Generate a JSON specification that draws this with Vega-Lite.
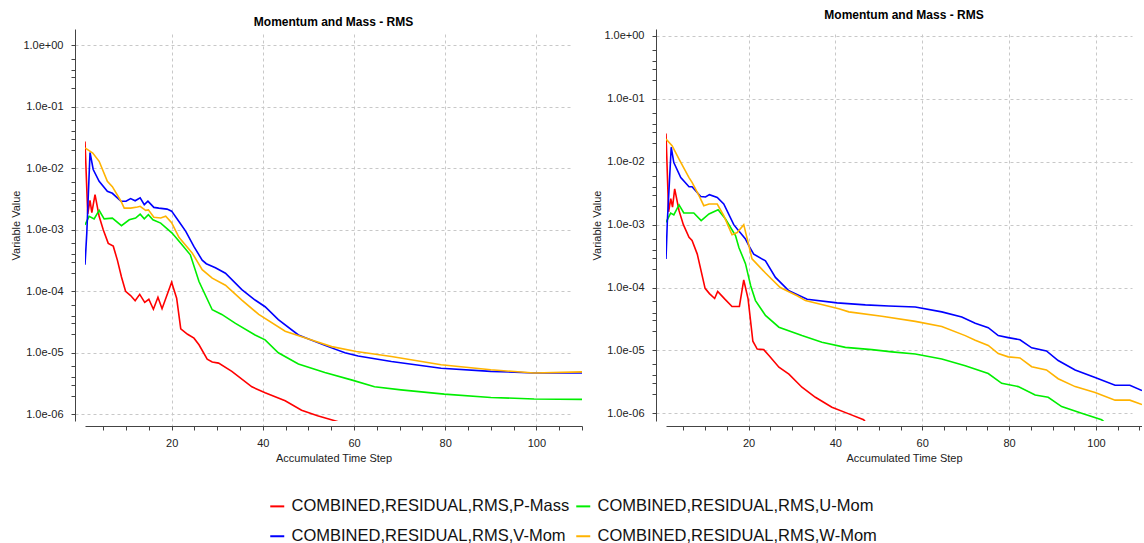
{
  "$schema": "https://vega.github.io/schema/vega-lite/v6.json",
  "padding": {"left": 10, "top": 9, "right": 0, "bottom": 0},
  "background": "white",
  "spacing": 8,
  "datasets": {
    "left": [
      {"s":"P-Mass","x":1.0,"v":2.7e-2},{"s":"P-Mass","x":1.6,"v":1.8e-3},{"s":"P-Mass","x":2.1,"v":3.0e-3},{"s":"P-Mass","x":2.5,"v":1.9e-3},{"s":"P-Mass","x":3.2,"v":3.7e-3},{"s":"P-Mass","x":4.1,"v":1.65e-3},{"s":"P-Mass","x":5.0,"v":1.0e-3},{"s":"P-Mass","x":6.1,"v":6.0e-4},{"s":"P-Mass","x":7.2,"v":5.4e-4},{"s":"P-Mass","x":8.1,"v":3.2e-4},{"s":"P-Mass","x":9.0,"v":1.7e-4},{"s":"P-Mass","x":9.9,"v":1.0e-4},{"s":"P-Mass","x":11.0,"v":8.5e-5},{"s":"P-Mass","x":12.0,"v":7.0e-5},{"s":"P-Mass","x":13.0,"v":8.9e-5},{"s":"P-Mass","x":14.1,"v":6.6e-5},{"s":"P-Mass","x":15.0,"v":7.4e-5},{"s":"P-Mass","x":16.0,"v":5.1e-5},{"s":"P-Mass","x":17.0,"v":8.0e-5},{"s":"P-Mass","x":17.9,"v":5.2e-5},{"s":"P-Mass","x":20.0,"v":1.4e-4},{"s":"P-Mass","x":21.1,"v":7.7e-5},{"s":"P-Mass","x":22.0,"v":2.45e-5},{"s":"P-Mass","x":23.5,"v":2.0e-5},{"s":"P-Mass","x":24.9,"v":1.73e-5},{"s":"P-Mass","x":26.0,"v":1.35e-5},{"s":"P-Mass","x":27.8,"v":7.9e-6},{"s":"P-Mass","x":28.9,"v":7.1e-6},{"s":"P-Mass","x":30.3,"v":6.8e-6},{"s":"P-Mass","x":33.2,"v":5.0e-6},{"s":"P-Mass","x":37.6,"v":2.8e-6},{"s":"P-Mass","x":40.5,"v":2.24e-6},{"s":"P-Mass","x":44.9,"v":1.66e-6},{"s":"P-Mass","x":48.5,"v":1.17e-6},{"s":"P-Mass","x":52.0,"v":9.5e-7},{"s":"P-Mass","x":56.5,"v":7.6e-7},{"s":"P-Mass","x":57.0,"v":7.0e-7},
      {"s":"U-Mom","x":1.0,"v":1.2e-3},{"s":"U-Mom","x":1.9,"v":1.65e-3},{"s":"U-Mom","x":3.0,"v":1.5e-3},{"s":"U-Mom","x":4.1,"v":2.06e-3},{"s":"U-Mom","x":5.2,"v":1.5e-3},{"s":"U-Mom","x":7.0,"v":1.54e-3},{"s":"U-Mom","x":9.0,"v":1.16e-3},{"s":"U-Mom","x":10.7,"v":1.45e-3},{"s":"U-Mom","x":12.1,"v":1.54e-3},{"s":"U-Mom","x":13.1,"v":1.79e-3},{"s":"U-Mom","x":14.0,"v":1.5e-3},{"s":"U-Mom","x":14.9,"v":1.75e-3},{"s":"U-Mom","x":15.9,"v":1.45e-3},{"s":"U-Mom","x":17.6,"v":1.28e-3},{"s":"U-Mom","x":20.1,"v":8.8e-4},{"s":"U-Mom","x":22.0,"v":6.0e-4},{"s":"U-Mom","x":24.1,"v":3.9e-4},{"s":"U-Mom","x":26.0,"v":1.44e-4},{"s":"U-Mom","x":28.9,"v":5.0e-5},{"s":"U-Mom","x":31.0,"v":4.2e-5},{"s":"U-Mom","x":34.0,"v":3.0e-5},{"s":"U-Mom","x":38.3,"v":1.95e-5},{"s":"U-Mom","x":40.5,"v":1.62e-5},{"s":"U-Mom","x":43.4,"v":1.0e-5},{"s":"U-Mom","x":47.8,"v":6.6e-6},{"s":"U-Mom","x":53.6,"v":4.8e-6},{"s":"U-Mom","x":59.6,"v":3.6e-6},{"s":"U-Mom","x":64.5,"v":2.8e-6},{"s":"U-Mom","x":70.3,"v":2.5e-6},{"s":"U-Mom","x":79.8,"v":2.13e-6},{"s":"U-Mom","x":90.0,"v":1.88e-6},{"s":"U-Mom","x":99.5,"v":1.78e-6},{"s":"U-Mom","x":110.0,"v":1.75e-6},
      {"s":"V-Mom","x":1.0,"v":2.7e-4},{"s":"V-Mom","x":1.4,"v":9.0e-4},{"s":"V-Mom","x":2.1,"v":1.8e-2},{"s":"V-Mom","x":2.8,"v":9.5e-3},{"s":"V-Mom","x":4.1,"v":6.1e-3},{"s":"V-Mom","x":5.9,"v":4.2e-3},{"s":"V-Mom","x":7.0,"v":3.9e-3},{"s":"V-Mom","x":8.9,"v":2.9e-3},{"s":"V-Mom","x":10.0,"v":2.9e-3},{"s":"V-Mom","x":11.0,"v":3.2e-3},{"s":"V-Mom","x":12.0,"v":2.95e-3},{"s":"V-Mom","x":13.1,"v":3.3e-3},{"s":"V-Mom","x":14.0,"v":2.55e-3},{"s":"V-Mom","x":14.8,"v":2.9e-3},{"s":"V-Mom","x":16.1,"v":2.3e-3},{"s":"V-Mom","x":17.2,"v":2.24e-3},{"s":"V-Mom","x":19.0,"v":2.16e-3},{"s":"V-Mom","x":20.0,"v":2.0e-3},{"s":"V-Mom","x":21.6,"v":1.36e-3},{"s":"V-Mom","x":23.1,"v":9.4e-4},{"s":"V-Mom","x":24.9,"v":5.3e-4},{"s":"V-Mom","x":26.7,"v":3.2e-4},{"s":"V-Mom","x":27.6,"v":2.8e-4},{"s":"V-Mom","x":29.6,"v":2.4e-4},{"s":"V-Mom","x":31.8,"v":1.96e-4},{"s":"V-Mom","x":35.4,"v":1.06e-4},{"s":"V-Mom","x":38.3,"v":7.2e-5},{"s":"V-Mom","x":40.5,"v":5.6e-5},{"s":"V-Mom","x":43.4,"v":3.45e-5},{"s":"V-Mom","x":47.8,"v":1.95e-5},{"s":"V-Mom","x":53.6,"v":1.32e-5},{"s":"V-Mom","x":58.0,"v":1.0e-5},{"s":"V-Mom","x":60.9,"v":8.9e-6},{"s":"V-Mom","x":68.2,"v":7.2e-6},{"s":"V-Mom","x":79.1,"v":5.6e-6},{"s":"V-Mom","x":90.0,"v":5.0e-6},{"s":"V-Mom","x":99.5,"v":4.7e-6},{"s":"V-Mom","x":110.0,"v":4.7e-6},
      {"s":"W-Mom","x":1.0,"v":2.13e-2},{"s":"W-Mom","x":2.7,"v":1.76e-2},{"s":"W-Mom","x":4.1,"v":1.29e-2},{"s":"W-Mom","x":5.9,"v":6.1e-3},{"s":"W-Mom","x":7.0,"v":5.0e-3},{"s":"W-Mom","x":8.9,"v":2.9e-3},{"s":"W-Mom","x":9.6,"v":2.24e-3},{"s":"W-Mom","x":11.0,"v":2.24e-3},{"s":"W-Mom","x":12.5,"v":2.33e-3},{"s":"W-Mom","x":13.1,"v":2.4e-3},{"s":"W-Mom","x":14.3,"v":2.06e-3},{"s":"W-Mom","x":14.9,"v":2.1e-3},{"s":"W-Mom","x":16.1,"v":1.59e-3},{"s":"W-Mom","x":17.6,"v":1.55e-3},{"s":"W-Mom","x":18.7,"v":1.65e-3},{"s":"W-Mom","x":20.0,"v":1.3e-3},{"s":"W-Mom","x":21.6,"v":7.5e-4},{"s":"W-Mom","x":24.5,"v":4.2e-4},{"s":"W-Mom","x":26.7,"v":2.24e-4},{"s":"W-Mom","x":28.9,"v":1.63e-4},{"s":"W-Mom","x":31.8,"v":1.25e-4},{"s":"W-Mom","x":35.4,"v":7.2e-5},{"s":"W-Mom","x":39.1,"v":4.2e-5},{"s":"W-Mom","x":44.9,"v":2.24e-5},{"s":"W-Mom","x":50.7,"v":1.62e-5},{"s":"W-Mom","x":55.1,"v":1.26e-5},{"s":"W-Mom","x":60.5,"v":1.05e-5},{"s":"W-Mom","x":68.2,"v":8.7e-6},{"s":"W-Mom","x":79.1,"v":6.4e-6},{"s":"W-Mom","x":90.0,"v":5.3e-6},{"s":"W-Mom","x":99.5,"v":4.7e-6},{"s":"W-Mom","x":110.0,"v":4.9e-6}
    ],
    "right": [
      {"s":"P-Mass","x":1.0,"v":2.8e-2},{"s":"P-Mass","x":1.6,"v":1.6e-3},{"s":"P-Mass","x":2.1,"v":2.6e-3},{"s":"P-Mass","x":2.5,"v":1.9e-3},{"s":"P-Mass","x":3.0,"v":3.7e-3},{"s":"P-Mass","x":4.0,"v":1.67e-3},{"s":"P-Mass","x":5.0,"v":1.0e-3},{"s":"P-Mass","x":6.3,"v":6.3e-4},{"s":"P-Mass","x":7.0,"v":5.6e-4},{"s":"P-Mass","x":8.2,"v":3.4e-4},{"s":"P-Mass","x":10.0,"v":9.7e-5},{"s":"P-Mass","x":11.0,"v":8.0e-5},{"s":"P-Mass","x":12.2,"v":6.7e-5},{"s":"P-Mass","x":12.9,"v":8.7e-5},{"s":"P-Mass","x":14.5,"v":6.6e-5},{"s":"P-Mass","x":16.2,"v":5.0e-5},{"s":"P-Mass","x":17.9,"v":5.0e-5},{"s":"P-Mass","x":18.9,"v":1.32e-4},{"s":"P-Mass","x":19.9,"v":6.6e-5},{"s":"P-Mass","x":21.0,"v":1.4e-5},{"s":"P-Mass","x":22.0,"v":1.05e-5},{"s":"P-Mass","x":23.5,"v":1.03e-5},{"s":"P-Mass","x":24.7,"v":8.3e-6},{"s":"P-Mass","x":27.0,"v":5.4e-6},{"s":"P-Mass","x":29.3,"v":4.2e-6},{"s":"P-Mass","x":32.3,"v":2.6e-6},{"s":"P-Mass","x":35.4,"v":1.8e-6},{"s":"P-Mass","x":39.2,"v":1.25e-6},{"s":"P-Mass","x":43.1,"v":9.8e-7},{"s":"P-Mass","x":46.5,"v":7.9e-7},{"s":"P-Mass","x":47.0,"v":7.2e-7},
      {"s":"U-Mom","x":1.0,"v":1.09e-3},{"s":"U-Mom","x":2.07,"v":1.53e-3},{"s":"U-Mom","x":2.8,"v":1.43e-3},{"s":"U-Mom","x":4.0,"v":2.06e-3},{"s":"U-Mom","x":5.1,"v":1.53e-3},{"s":"U-Mom","x":7.4,"v":1.53e-3},{"s":"U-Mom","x":9.1,"v":1.16e-3},{"s":"U-Mom","x":10.9,"v":1.48e-3},{"s":"U-Mom","x":13.0,"v":1.73e-3},{"s":"U-Mom","x":14.7,"v":1.23e-3},{"s":"U-Mom","x":17.0,"v":6.7e-4},{"s":"U-Mom","x":17.8,"v":4.3e-4},{"s":"U-Mom","x":19.3,"v":2.4e-4},{"s":"U-Mom","x":20.5,"v":1.07e-4},{"s":"U-Mom","x":21.6,"v":6.2e-5},{"s":"U-Mom","x":23.9,"v":3.6e-5},{"s":"U-Mom","x":27.0,"v":2.34e-5},{"s":"U-Mom","x":32.3,"v":1.72e-5},{"s":"U-Mom","x":36.9,"v":1.35e-5},{"s":"U-Mom","x":42.3,"v":1.12e-5},{"s":"U-Mom","x":48.4,"v":1.03e-5},{"s":"U-Mom","x":53.0,"v":9.5e-6},{"s":"U-Mom","x":58.4,"v":8.8e-6},{"s":"U-Mom","x":64.5,"v":7.3e-6},{"s":"U-Mom","x":69.9,"v":5.7e-6},{"s":"U-Mom","x":75.2,"v":4.3e-6},{"s":"U-Mom","x":78.3,"v":3.0e-6},{"s":"U-Mom","x":82.1,"v":2.66e-6},{"s":"U-Mom","x":86.0,"v":1.96e-6},{"s":"U-Mom","x":89.0,"v":1.8e-6},{"s":"U-Mom","x":92.1,"v":1.28e-6},{"s":"U-Mom","x":96.7,"v":1.0e-6},{"s":"U-Mom","x":101.3,"v":7.9e-7},{"s":"U-Mom","x":102.0,"v":7.2e-7},
      {"s":"V-Mom","x":1.0,"v":2.85e-4},{"s":"V-Mom","x":1.3,"v":1.09e-3},{"s":"V-Mom","x":2.2,"v":1.7e-2},{"s":"V-Mom","x":2.8,"v":9.7e-3},{"s":"V-Mom","x":4.4,"v":5.6e-3},{"s":"V-Mom","x":6.3,"v":4.0e-3},{"s":"V-Mom","x":7.0,"v":4.0e-3},{"s":"V-Mom","x":9.0,"v":2.8e-3},{"s":"V-Mom","x":10.1,"v":2.75e-3},{"s":"V-Mom","x":11.0,"v":3.0e-3},{"s":"V-Mom","x":12.8,"v":2.7e-3},{"s":"V-Mom","x":14.3,"v":2.13e-3},{"s":"V-Mom","x":16.6,"v":1.0e-3},{"s":"V-Mom","x":17.4,"v":8.5e-4},{"s":"V-Mom","x":19.3,"v":5.9e-4},{"s":"V-Mom","x":20.1,"v":4.6e-4},{"s":"V-Mom","x":21.2,"v":3.4e-4},{"s":"V-Mom","x":23.9,"v":2.65e-4},{"s":"V-Mom","x":26.2,"v":1.45e-4},{"s":"V-Mom","x":29.3,"v":8.9e-5},{"s":"V-Mom","x":33.5,"v":6.5e-5},{"s":"V-Mom","x":40.4,"v":5.7e-5},{"s":"V-Mom","x":46.9,"v":5.3e-5},{"s":"V-Mom","x":52.3,"v":5.1e-5},{"s":"V-Mom","x":58.4,"v":4.9e-5},{"s":"V-Mom","x":64.5,"v":4.1e-5},{"s":"V-Mom","x":69.1,"v":3.4e-5},{"s":"V-Mom","x":72.2,"v":2.7e-5},{"s":"V-Mom","x":75.2,"v":2.3e-5},{"s":"V-Mom","x":77.5,"v":1.72e-5},{"s":"V-Mom","x":79.8,"v":1.6e-5},{"s":"V-Mom","x":82.5,"v":1.48e-5},{"s":"V-Mom","x":85.2,"v":1.1e-5},{"s":"V-Mom","x":88.6,"v":9.8e-6},{"s":"V-Mom","x":91.3,"v":6.9e-6},{"s":"V-Mom","x":95.2,"v":4.9e-6},{"s":"V-Mom","x":99.8,"v":3.7e-6},{"s":"V-Mom","x":104.4,"v":2.8e-6},{"s":"V-Mom","x":107.8,"v":2.8e-6},{"s":"V-Mom","x":110.6,"v":2.3e-6},
      {"s":"W-Mom","x":1.0,"v":2.3e-2},{"s":"W-Mom","x":2.4,"v":1.8e-2},{"s":"W-Mom","x":4.0,"v":1.1e-2},{"s":"W-Mom","x":6.3,"v":5.6e-3},{"s":"W-Mom","x":7.0,"v":4.7e-3},{"s":"W-Mom","x":8.6,"v":2.9e-3},{"s":"W-Mom","x":9.7,"v":2.0e-3},{"s":"W-Mom","x":10.9,"v":2.13e-3},{"s":"W-Mom","x":12.8,"v":2.13e-3},{"s":"W-Mom","x":14.3,"v":1.39e-3},{"s":"W-Mom","x":16.2,"v":6.9e-4},{"s":"W-Mom","x":17.4,"v":7.5e-4},{"s":"W-Mom","x":18.9,"v":1.0e-3},{"s":"W-Mom","x":20.1,"v":4.6e-4},{"s":"W-Mom","x":20.8,"v":2.85e-4},{"s":"W-Mom","x":23.9,"v":1.7e-4},{"s":"W-Mom","x":27.3,"v":1.0e-4},{"s":"W-Mom","x":31.2,"v":7.4e-5},{"s":"W-Mom","x":33.1,"v":6.2e-5},{"s":"W-Mom","x":40.8,"v":4.6e-5},{"s":"W-Mom","x":43.1,"v":4.1e-5},{"s":"W-Mom","x":50.7,"v":3.5e-5},{"s":"W-Mom","x":58.4,"v":2.9e-5},{"s":"W-Mom","x":64.5,"v":2.4e-5},{"s":"W-Mom","x":69.9,"v":1.72e-5},{"s":"W-Mom","x":72.2,"v":1.45e-5},{"s":"W-Mom","x":75.2,"v":1.2e-5},{"s":"W-Mom","x":77.5,"v":8.9e-6},{"s":"W-Mom","x":79.8,"v":7.9e-6},{"s":"W-Mom","x":82.5,"v":7.6e-6},{"s":"W-Mom","x":85.2,"v":5.5e-6},{"s":"W-Mom","x":88.6,"v":4.9e-6},{"s":"W-Mom","x":91.3,"v":3.55e-6},{"s":"W-Mom","x":95.2,"v":2.66e-6},{"s":"W-Mom","x":99.8,"v":2.14e-6},{"s":"W-Mom","x":104.4,"v":1.62e-6},{"s":"W-Mom","x":107.8,"v":1.62e-6},{"s":"W-Mom","x":110.6,"v":1.38e-6}
    ]
  },
  "hconcat": [
    {
      "width": 497,
      "height": 392,
      "data": {"name": "left"},
      "title": {"text": "Momentum and Mass - RMS", "offset": 0},
      "mark": {"type": "line", "strokeWidth": 1.6, "clip": true},
      "encoding": {
        "x": {"field": "x", "type": "quantitative", "scale": {"domain": [1, 110], "nice": false, "zero": false},
          "axis": {"title": "Accumulated Time Step", "values": [5,10,15,20,25,30,35,40,45,50,55,60,65,70,75,80,85,90,95,100,105,110], "labelExpr": "datum.value % 20 === 0 ? datum.label : ''", "gridOpacity": {"condition": {"test": "datum.value % 20 === 0", "value": 1}, "value": 0}}},
        "y": {"field": "v", "type": "quantitative", "scale": {"type": "log", "domain": [7.8e-7, 1.82], "nice": false},
          "axis": {"title": "Variable Value", "values": [1e-6,2e-6,3e-6,4e-6,6e-6,1e-5,2e-5,3e-5,4e-5,6e-5,1e-4,2e-4,3e-4,4e-4,6e-4,1e-3,2e-3,3e-3,4e-3,6e-3,1e-2,2e-2,3e-2,4e-2,6e-2,1e-1,2e-1,3e-1,4e-1,6e-1,1],
            "labelExpr": "abs(log(datum.value)/LN10 - round(log(datum.value)/LN10)) < 0.001 ? '1.0e' + (round(log(datum.value)/LN10) < 0 ? '-0' : '+0') + abs(round(log(datum.value)/LN10)) : ''",
            "gridOpacity": {"condition": {"test": "abs(log(datum.value)/LN10 - round(log(datum.value)/LN10)) < 0.001", "value": 1}, "value": 0}}},
        "color": {"field": "s", "type": "nominal",
          "scale": {"domain": ["P-Mass", "U-Mom", "V-Mom", "W-Mom"], "range": ["#ff0000", "#00ee00", "#0000ff", "#ffb300"]},
          "legend": {"orient": "none", "legendX": 184, "legendY": 469, "columns": 2, "direction": "horizontal", "title": null,
            "symbolType": "stroke", "symbolSize": 196, "symbolStrokeWidth": 2, "labelOffset": 6, "columnPadding": 2, "rowPadding": 13,
            "labelFont": "Liberation Sans", "labelFontSize": 16.5, "labelColor": "#111", "labelLimit": 500,
            "labelExpr": "'COMBINED,RESIDUAL,RMS,' + datum.label"}
        }
      }
    },
    {
      "width": 476,
      "height": 392,
      "data": {"name": "right"},
      "title": {"text": "Momentum and Mass - RMS", "offset": 7},
      "mark": {"type": "line", "strokeWidth": 1.6, "clip": true},
      "encoding": {
        "x": {"field": "x", "type": "quantitative", "scale": {"domain": [1, 110.6], "nice": false, "zero": false},
          "axis": {"title": "Accumulated Time Step", "values": [5,10,15,20,25,30,35,40,45,50,55,60,65,70,75,80,85,90,95,100,105,110], "labelExpr": "datum.value % 20 === 0 ? datum.label : ''", "gridOpacity": {"condition": {"test": "datum.value % 20 === 0", "value": 1}, "value": 0}}},
        "y": {"field": "v", "type": "quantitative", "scale": {"type": "log", "domain": [7.55e-7, 1.29], "nice": false},
          "axis": {"title": "Variable Value", "values": [1e-6,2e-6,3e-6,4e-6,6e-6,1e-5,2e-5,3e-5,4e-5,6e-5,1e-4,2e-4,3e-4,4e-4,6e-4,1e-3,2e-3,3e-3,4e-3,6e-3,1e-2,2e-2,3e-2,4e-2,6e-2,1e-1,2e-1,3e-1,4e-1,6e-1,1],
            "labelExpr": "abs(log(datum.value)/LN10 - round(log(datum.value)/LN10)) < 0.001 ? '1.0e' + (round(log(datum.value)/LN10) < 0 ? '-0' : '+0') + abs(round(log(datum.value)/LN10)) : ''",
            "gridOpacity": {"condition": {"test": "abs(log(datum.value)/LN10 - round(log(datum.value)/LN10)) < 0.001", "value": 1}, "value": 0}}},
        "color": {"field": "s", "type": "nominal",
          "scale": {"domain": ["P-Mass", "U-Mom", "V-Mom", "W-Mom"], "range": ["#ff0000", "#00ee00", "#0000ff", "#ffb300"]},
          "legend": {"orient": "none", "legendX": 184, "legendY": 469, "columns": 2, "direction": "horizontal", "title": null,
            "symbolType": "stroke", "symbolSize": 196, "symbolStrokeWidth": 2, "labelOffset": 6, "columnPadding": 2, "rowPadding": 13,
            "labelFont": "Liberation Sans", "labelFontSize": 16.5, "labelColor": "#111", "labelLimit": 500,
            "labelExpr": "'COMBINED,RESIDUAL,RMS,' + datum.label"}
        }
      }
    }
  ],
  "resolve": {"scale": {"color": "shared"}},
  "config": {
    "view": {"stroke": null},
    "title": {"font": "Liberation Sans", "fontSize": 12, "fontWeight": "bold", "color": "#000", "anchor": "middle", "frame": "group"},
    "axis": {"labelFont": "Liberation Sans", "labelFontSize": 11, "labelColor": "#222", "titleFont": "Liberation Sans", "titleFontSize": 11, "titleFontWeight": "normal", "titleColor": "#222",
      "domainColor": "#444", "tickColor": "#444", "tickSize": 4, "gridColor": "#c8c8c8", "gridDash": [3, 3], "labelOverlap": false, "labelFlush": false},
    "axisX": {"offset": 5, "labelPadding": 7, "titlePadding": 4},
    "axisY": {"offset": 10, "labelPadding": 8, "titlePadding": 1}
  }
}
